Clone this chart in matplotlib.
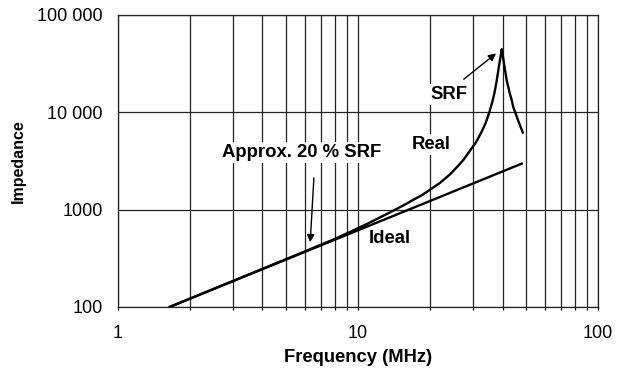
import matplotlib
matplotlib.use('Agg')
import matplotlib.pyplot as plt
from matplotlib.ticker import FixedLocator, NullFormatter, LogLocator

plt.rcParams['font.family'] = ['Liberation Sans', 'DejaVu Sans']

# ideal inductor: straight line on log-log
ideal_f = [1.64, 48.6]
ideal_z = [100, 3000]

# real inductor
real_f = [1.64, 6, 8, 9.26, 11, 12.5, 14.3, 15.5, 17, 18.5, 20, 22, 24.2, 26, 27.5, 29.3, 31,
          32.7, 34, 35.2, 36.3, 37.0, 37.8, 38.7, 39.3, 39.7,
          40.2, 40.6, 41.7, 42.8, 43.7, 44.4, 45.2, 46.5, 48.6]
real_z = [100, 372, 500, 590, 720, 845, 1000, 1110, 1262, 1413, 1610, 1890, 2310, 2780, 3250,
          4050, 4910, 6270, 7730, 9900, 12900, 15700, 20800, 30300, 38100, 44500,
          37000, 31200, 21000, 16000, 13300, 11200, 10000, 8200, 6200]

y_ticks = [100, 1000, 10000, 100000]
y_labels = ['100', '1000', '10 000', '100 000']
x_ticks = [1, 10, 100]
x_labels = ['1', '10', '100']

fig = plt.figure(figsize=(6.23, 3.73), dpi=100)
ax = fig.add_axes([0.1894, 0.177, 0.7705, 0.7828])

ax.set_xscale('log')
ax.set_yscale('log')
ax.set_xlim(1, 100)
ax.set_ylim(100, 100000)

ax.xaxis.set_major_locator(FixedLocator(x_ticks))
ax.xaxis.set_minor_locator(LogLocator(base=10, subs=range(2, 10)))
ax.xaxis.set_minor_formatter(NullFormatter())
ax.set_xticklabels(x_labels)
ax.yaxis.set_major_locator(FixedLocator(y_ticks))
ax.yaxis.set_minor_locator(FixedLocator([]))
ax.set_yticklabels(y_labels)

ax.grid(True, which='major', axis='both', color='#222222', linewidth=0.9)
ax.grid(True, which='minor', axis='x', color='#222222', linewidth=0.9)
ax.tick_params(axis='x', which='both', length=2, width=0.9, pad=11, labelsize=13)
ax.tick_params(axis='y', which='both', length=0, pad=11, labelsize=13)
for s in ax.spines.values():
    s.set_linewidth(0.9)
    s.set_color('#222222')
ax.set_axisbelow(True)

ax.plot(ideal_f, ideal_z, color='black', linewidth=1.7, solid_capstyle='butt')
ax.plot(real_f, real_z, color='black', linewidth=1.7, solid_joinstyle='round')

ax.set_xlabel('Frequency (MHz)', fontsize=13.2, fontweight='bold', labelpad=5)
ax.set_ylabel('Impedance', fontsize=11.5, fontweight='bold', labelpad=8)

box = dict(facecolor='white', edgecolor='none', pad=1.5)
ax.text(13.6, 505, 'Ideal', fontsize=13.3, fontweight='bold', ha='center', va='center', bbox=box)
ax.text(20.1, 4660, 'Real', fontsize=13.3, fontweight='bold', ha='center', va='center', bbox=box)
ax.text(23.9, 15400, 'SRF', fontsize=13.3, fontweight='bold', ha='center', va='center', bbox=box)
ax.text(5.84, 3850, 'Approx. 20 % SRF', fontsize=13.3, fontweight='bold', ha='center', va='center', bbox=box)

ax.annotate('', xy=(6.31, 433), xytext=(6.56, 2270),
            arrowprops=dict(arrowstyle='-|>', color='black', lw=1.0, mutation_scale=11))
ax.annotate('', xy=(38.4, 42000), xytext=(27.0, 21000),
            arrowprops=dict(arrowstyle='-|>', color='black', lw=1.0, mutation_scale=11))

fig.savefig('out.png', dpi=100)
